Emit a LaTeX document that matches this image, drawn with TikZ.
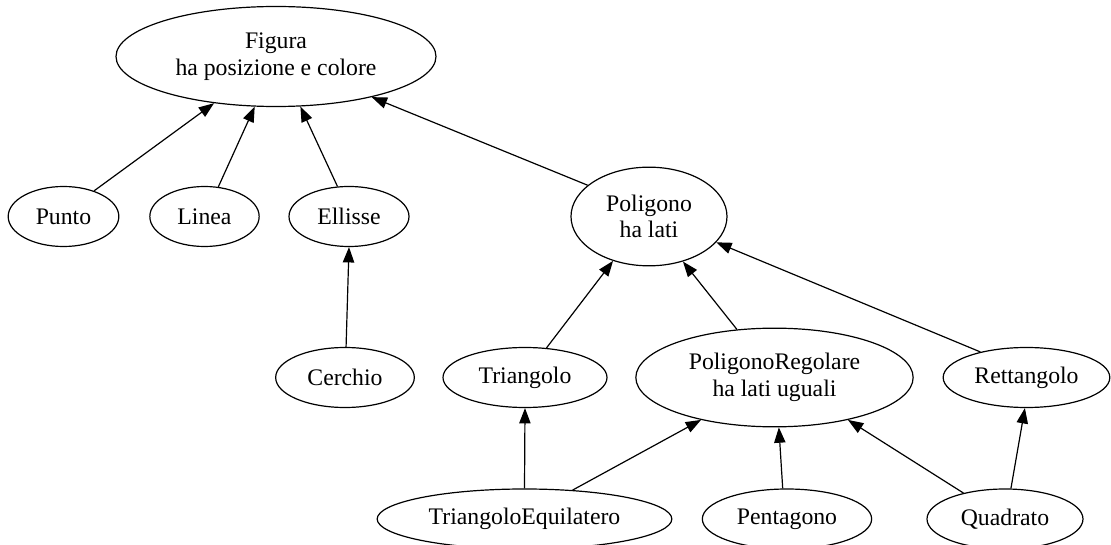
\documentclass[tikz,border=0pt]{standalone}
\usepackage{fontspec}
\setmainfont{Liberation Serif}
\usepackage{tikz}
\usetikzlibrary{arrows.meta, shapes.geometric}

\begin{document}
\begin{tikzpicture}[x=0.75pt,y=0.75pt,yscale=-1,xscale=1,
  cls/.style={draw, ellipse, line width=0.9pt, inner sep=0pt, align=center,
    font=\fontsize{17.8}{20}\selectfont},
  isa/.style={-{Triangle[length=11.5pt,width=8.5pt]}, line width=0.9pt}]
\useasboundingbox (0,0) rectangle (1111,545);

% Ellipse Figura (rank 0)
\node [cls, minimum width=240pt, minimum height=75pt] (figura) at (276,56.5) {Figura\\ha posizione e colore};
% Ellipses of rank 1
\node [cls, minimum width=83pt, minimum height=45pt] (punto) at (63.5,216.5) {Punto};
\node [cls, minimum width=82pt, minimum height=45pt] (linea) at (204.5,216.5) {Linea};
\node [cls, minimum width=90pt, minimum height=45pt] (ellisse) at (349,216.5) {Ellisse};
\node [cls, minimum width=117pt, minimum height=74pt] (poligono) at (649,216.5) {Poligono\\ha lati};
% Ellipses of rank 2
\node [cls, minimum width=104pt, minimum height=45pt] (cerchio) at (345,377.5) {Cerchio};
\node [cls, minimum width=123pt, minimum height=45pt] (triangolo) at (525,377.5) {Triangolo};
\node [cls, minimum width=208pt, minimum height=74pt] (polreg) at (774.5,377.5) {PoligonoRegolare\\ha lati uguali};
\node [cls, minimum width=125pt, minimum height=45pt] (rettangolo) at (1026.5,377.5) {Rettangolo};
% Ellipses of rank 3
\node [cls, minimum width=221pt, minimum height=45pt] (trieq) at (524.5,519) {TriangoloEquilatero};
\node [cls, minimum width=127pt, minimum height=45pt] (pentagono) at (787,519) {Pentagono};
\node [cls, minimum width=117pt, minimum height=45pt] (quadrato) at (1005,519) {Quadrato};

% Inheritance arrows
\draw [isa] (punto.40) -- (figura.217);
\draw [isa] (linea.65) -- (figura.247);
\draw [isa] (ellisse.111) -- (figura.296);
\draw [isa] (poligono.153) -- (figura.337);
\draw [isa] (cerchio.88) -- (ellisse.270);
\draw [isa] (triangolo.54) -- (poligono.231);
\draw [isa] (polreg.128) -- (poligono.307);
\draw [isa] (rettangolo.151) -- (poligono.339);
\draw [isa] (trieq.90) -- (triangolo.270);
\draw [isa] (trieq.31) -- (polreg.210);
\draw [isa] (pentagono.98) -- (polreg.275);
\draw [isa] (quadrato.148) -- (polreg.330);
\draw [isa] (quadrato.79) -- (rettangolo.267);

\end{tikzpicture}
\end{document}
